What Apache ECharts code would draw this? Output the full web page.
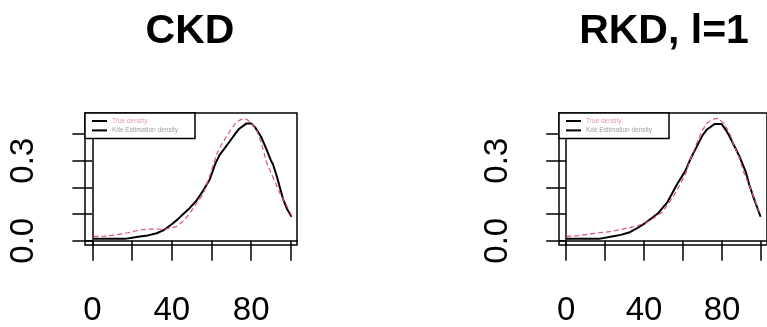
<!DOCTYPE html>
<html>
<head>
<meta charset="utf-8">
<script src="https://cdn.jsdelivr.net/npm/echarts@6/dist/echarts.min.js"></script>
<style>
  html, body { margin: 0; padding: 0; background: #fff; }
  #chart { width: 767px; height: 327px; }
</style>
</head>
<body>
<div id="chart"></div>
<script>
// panel titles
const panelTitles = ['CKD', 'RKD, l=1'];
const legendNames = ['True density', 'Kde Estimation density'];

// axis ticks / labels
const xTicks = [0, 20, 40, 60, 80, 100];
const xLabels = [0, 40, 80];
const yTicks = [0, 0.1, 0.2, 0.3, 0.4];
const yLabels = [0, 0.3];

// CKD panel: [x, density]
const ckdTrue = [[0.5,0.007],[8,0.007],[16.5,0.007],[20,0.011],[24,0.016],[28,0.02],[32.4,0.028],[36,0.04],[40,0.062],[43,0.08],[45.8,0.1],[49,0.122],[52.5,0.151],[56,0.19],[59.2,0.231],[62,0.29],[64.3,0.324],[67,0.35],[71,0.391],[74,0.42],[77.7,0.44],[80,0.44],[82,0.425],[85,0.39],[87.8,0.342],[90,0.3],[91,0.287],[93,0.24],[96,0.158],[98,0.12],[100.4,0.09]];
const ckdEst = [[0.5,0.016],[6,0.017],[12,0.022],[18,0.03],[24,0.041],[30,0.044],[34,0.043],[38,0.045],[42.4,0.053],[46,0.075],[49,0.102],[52,0.135],[55.9,0.176],[59,0.24],[62.6,0.324],[65,0.36],[67.6,0.391],[70,0.42],[72.7,0.446],[75,0.455],[77.7,0.456],[80,0.44],[82.7,0.416],[85,0.37],[87.8,0.293],[90,0.255],[92.8,0.207],[95,0.17],[97.8,0.133],[100.4,0.095]];

// RKD panel
const rkdTrue = [[0,0.007],[8,0.007],[16.8,0.007],[23.5,0.016],[28,0.022],[32.7,0.032],[36,0.045],[40.3,0.065],[44,0.085],[47,0.102],[52,0.145],[57,0.213],[61.2,0.262],[64,0.31],[67.1,0.354],[70,0.395],[72.1,0.416],[76.3,0.438],[79.7,0.438],[82,0.415],[83.9,0.391],[86,0.36],[88.9,0.317],[92.3,0.256],[94,0.21],[96.4,0.158],[99.8,0.09]];
const rkdEst = [[0,0.016],[6,0.019],[11.7,0.025],[17,0.03],[23.5,0.035],[28,0.042],[32.2,0.049],[36,0.055],[40.3,0.065],[45,0.085],[49.4,0.108],[52,0.135],[55.3,0.17],[58,0.205],[61.2,0.25],[64,0.31],[67.1,0.367],[70,0.415],[72.1,0.44],[75,0.455],[78,0.459],[81,0.44],[83.9,0.404],[86,0.36],[88.9,0.311],[91,0.26],[94,0.207],[97,0.15],[99.8,0.096]];

const FONT = '"Liberation Sans", Arial, sans-serif';
const RED = '#DF536B';
const panelLeft = [85, 559];
const PANEL_W = 212;

const chart = echarts.init(document.getElementById('chart'), null, { renderer: 'canvas' });

const xAxisFor = (gi) => ({
  type: 'value',
  gridIndex: gi,
  min: -3.7,
  max: 103.1,
  axisLine: { show: true, lineStyle: { color: '#000', width: 1.5 } },
  axisTick: { show: true, customValues: xTicks, length: 20, lineStyle: { color: '#000', width: 1.5 } },
  axisLabel: { customValues: xLabels, color: '#000', fontSize: 33, fontFamily: FONT, margin: 49 },
  splitLine: { show: false },
});

const yAxisFor = (gi) => ({
  type: 'value',
  gridIndex: gi,
  min: -0.016,
  max: 0.479,
  axisLine: { show: true, lineStyle: { color: '#000', width: 1.5 } },
  axisTick: { show: true, customValues: yTicks, length: 20, lineStyle: { color: '#000', width: 1.5 } },
  axisLabel: {
    customValues: yLabels,
    rotate: 90,
    color: '#000',
    fontSize: 33,
    fontFamily: FONT,
    margin: 45,
    formatter: (v) => v.toFixed(1),
  },
  splitLine: { show: false },
});

const lineSeries = (name, data, gi, dashed) => ({
  name,
  type: 'line',
  xAxisIndex: gi,
  yAxisIndex: gi,
  data,
  symbol: 'none',
  silent: true,
  z: dashed ? 3 : 2,
  lineStyle: dashed
    ? { color: RED, width: 1.2, type: [5, 3] }
    : { color: '#000', width: 2 },
  itemStyle: { color: dashed ? RED : '#000' },
});

const legendFor = (gi) => ({
  orient: 'vertical',
  left: panelLeft[gi],
  top: 113,
  padding: [4.5, 3, 4.5, 7],
  icon: 'rect',
  itemWidth: 15,
  itemHeight: 2,
  itemGap: 2.4,
  borderColor: '#000',
  borderWidth: 1.5,
  backgroundColor: '#fff',
  selectedMode: false,
  itemStyle: { color: '#000', borderWidth: 0 },
  data: [
    { name: legendNames[0], textStyle: { color: '#e39aab' } },
    { name: legendNames[1], textStyle: { color: '#a0a0a0' } },
  ],
  textStyle: { fontSize: 6.5, lineHeight: 7, fontFamily: FONT, width: 80, padding: 0 },
});

chart.setOption({
  backgroundColor: '#fff',
  animation: false,
  grid: panelLeft.map((l) => ({
    left: l,
    top: 113,
    width: PANEL_W,
    height: 134,
    show: true,
    borderColor: '#000',
    borderWidth: 1.5,
    backgroundColor: 'transparent',
  })),
  legend: [legendFor(0), legendFor(1)],
  xAxis: [xAxisFor(0), xAxisFor(1)],
  yAxis: [yAxisFor(0), yAxisFor(1)],
  series: [
    lineSeries(legendNames[0], ckdTrue, 0, false),
    lineSeries(legendNames[1], ckdEst, 0, true),
    lineSeries(legendNames[0], rkdTrue, 1, false),
    lineSeries(legendNames[1], rkdEst, 1, true),
  ],
  graphic: panelTitles.map((t, i) => ({
    type: 'text',
    x: panelLeft[i] + PANEL_W / 2 - 1,
    y: 32,
    style: {
      text: t,
      textAlign: 'center',
      textVerticalAlign: 'middle',
      font: 'bold 41px ' + FONT,
      fill: '#000',
    },
  })),
});
</script>
</body>
</html>
